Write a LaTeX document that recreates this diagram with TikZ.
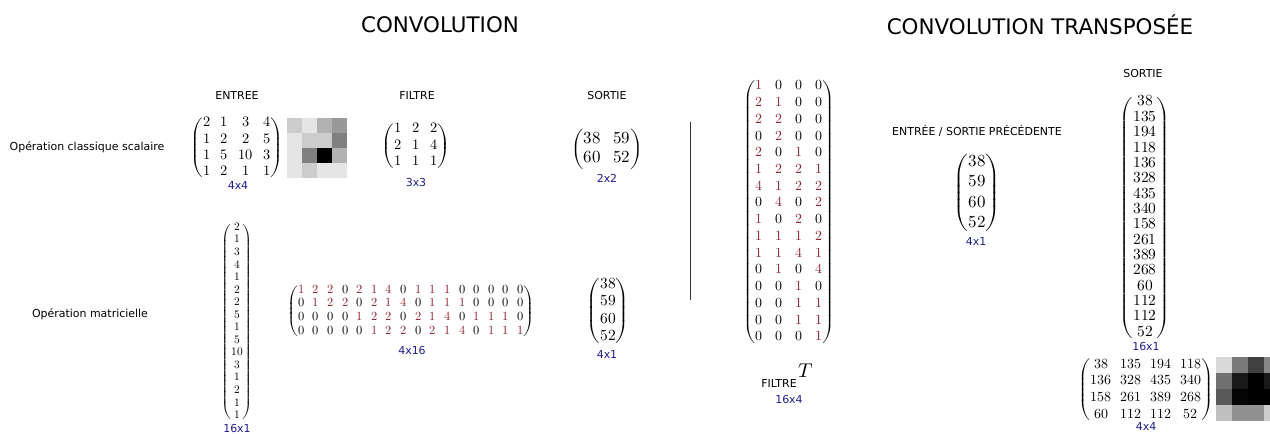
\documentclass[tikz,border=0pt]{standalone}
\usepackage{amsmath}
\usepackage{fontspec}
\usepackage{unicode-math}
\setmathfont{Latin Modern Math}
\setsansfont{DejaVu Sans}
\usetikzlibrary{calc}
\setcounter{MaxMatrixCols}{16}

\definecolor{dimblue}{RGB}{30,30,140}
\definecolor{filtred}{RGB}{140,35,45}
\newcommand{\rd}[1]{\textcolor{filtred}{#1}}

\tikzset{
	titre/.style={font=\sffamily\fontsize{21.5}{25}\selectfont},
	lbl/.style={font=\sffamily\fontsize{11}{13}\selectfont, text=black},
	dim/.style={font=\sffamily\fontsize{11}{12}\selectfont, text=dimblue, inner sep=0pt},
	mat/.style n args={3}{inner sep=0pt, font=\fontsize{#1}{#2}\selectfont\setlength\arraycolsep{#3}},
}

\begin{document}
\begin{tikzpicture}[x=1bp, y=-1bp]
	\useasboundingbox (0,0) rectangle (1270,434);
	
	% Titres
	\node[titre] (conv) at (440,25) {CONVOLUTION};
	\node[titre] (convT) at (1040,25) {CONVOLUTION TRANSPOSÉE};
	
	\node[lbl] (lentree) at (237,96) {ENTREE};
	\node[lbl] (lfiltre) at (417,96) {FILTRE};
	\node[lbl] (lsortie) at (607,96) {SORTIE};
	\node[lbl] (lscal) at (87,147) {Opération classique scalaire};
	\node[lbl] (lmat) at (90,314) {Opération matricielle};
	
	% Operation classique
	\node[mat={14.5}{16.3}{5.3bp}] (entree) at (237,148) {$\begin{pmatrix}
		2 & 1 & 3 & 4\\ 1 & 2 & 2 & 5\\ 1 & 5 & 10 & 3\\ 1 & 2 & 1 & 1
	\end{pmatrix}$};
	\node[dim] (dentree) at (238,186) {4x4};
	\foreach \v [count=\k from 0] in {2,1,3,4,1,2,2,5,1,5,10,3,1,2,1,1}{
		\pgfmathtruncatemacro\ci{mod(\k,4)}
		\pgfmathtruncatemacro\ri{div(\k,4)}
		\fill[black!\v0] (287+15*\ci, 118+15*\ri) rectangle ++(15,15);
	}
	\node[mat={14.5}{16.5}{5.3bp}] (filtre) at (416,146) {$\begin{pmatrix}
		1 & 2 & 2\\ 2 & 1 & 4\\ 1 & 1 & 1
	\end{pmatrix}$};
	\node[dim] (dfiltre) at (416,183) {3x3};
	\node[mat={17}{20}{6.5bp}] (sortie) at (607,149) {$\begin{pmatrix}
		38 & 59\\ 60 & 52
	\end{pmatrix}$};
	\node[dim] (dsortie) at (607,178) {2x2};
	
	% Operation matricielle
	\node[mat={11.5}{12.6}{5bp}] (entvec) at (237,322) {$\begin{pmatrix}
		2\\1\\3\\4\\1\\2\\2\\5\\1\\5\\10\\3\\1\\2\\1\\1
	\end{pmatrix}$};
	\node[dim] (dentvec) at (237,429) {16x1};
	\node[mat={12.5}{13.8}{4.2bp}] (filmat) at (411,311) {$\begin{pmatrix}
		\rd1 & \rd2 & \rd2 & 0 & \rd2 & \rd1 & \rd4 & 0 & \rd1 & \rd1 & \rd1 & 0 & 0 & 0 & 0 & 0\\
		0 & \rd1 & \rd2 & \rd2 & 0 & \rd2 & \rd1 & \rd4 & 0 & \rd1 & \rd1 & \rd1 & 0 & 0 & 0 & 0\\
		0 & 0 & 0 & 0 & \rd1 & \rd2 & \rd2 & 0 & \rd2 & \rd1 & \rd4 & 0 & \rd1 & \rd1 & \rd1 & 0\\
		0 & 0 & 0 & 0 & 0 & \rd1 & \rd2 & \rd2 & 0 & \rd2 & \rd1 & \rd4 & 0 & \rd1 & \rd1 & \rd1
	\end{pmatrix}$};
	\node[dim] (dfilmat) at (412,351) {4x16};
	\node[mat={15.5}{17.7}{5bp}] (sorvec) at (608,311) {$\begin{pmatrix}
		38\\59\\60\\52
	\end{pmatrix}$};
	\node[dim] (dsorvec) at (607,355) {4x1};
	
	% separation
	\draw[line width=0.8bp, black!80] (690,122) -- (690,300);
	
	% Convolution transposee
	\node[mat={14}{16.8}{6.4bp}] (filT) at (789,212) {$\begin{pmatrix}
		\rd1 & 0 & 0 & 0\\
		\rd2 & \rd1 & 0 & 0\\
		\rd2 & \rd2 & 0 & 0\\
		0 & \rd2 & 0 & 0\\
		\rd2 & 0 & \rd1 & 0\\
		\rd1 & \rd2 & \rd2 & \rd1\\
		\rd4 & \rd1 & \rd2 & \rd2\\
		0 & \rd4 & 0 & \rd2\\
		\rd1 & 0 & \rd2 & 0\\
		\rd1 & \rd1 & \rd1 & \rd2\\
		\rd1 & \rd1 & \rd4 & \rd1\\
		0 & \rd1 & 0 & \rd4\\
		0 & 0 & \rd1 & 0\\
		0 & 0 & \rd1 & \rd1\\
		0 & 0 & \rd1 & \rd1\\
		0 & 0 & 0 & \rd1
	\end{pmatrix}$};
	\node[lbl, inner sep=0pt] (lfilT) at (779,384) {FILTRE};
	\node[inner sep=0pt, font=\fontsize{20}{20}\selectfont] (expT) at (806,371) {$T$};
	\node[dim] (dfilT) at (789,400) {16x4};
	
	\node[lbl] (lentsor) at (977,131) {ENTRÉE / SORTIE PRÉCÉDENTE};
	\node[mat={17}{20.5}{5bp}] (entT) at (977,193) {$\begin{pmatrix}
		38\\59\\60\\52
	\end{pmatrix}$};
	\node[dim] (dentT) at (976,242) {4x1};
	
	\node[lbl] (lsortieT) at (1143,74) {SORTIE};
	\node[mat={15.5}{15.4}{5bp}] (sorT) at (1145,218) {$\begin{pmatrix}
		38\\135\\194\\118\\136\\328\\435\\340\\158\\261\\389\\268\\60\\112\\112\\52
	\end{pmatrix}$};
	\node[dim] (dsorT) at (1146,347) {16x1};
	\node[mat={14}{16.8}{4.5bp}] (sorTmat) at (1146,390) {$\begin{pmatrix}
		38 & 135 & 194 & 118\\ 136 & 328 & 435 & 340\\ 158 & 261 & 389 & 268\\ 60 & 112 & 112 & 52
	\end{pmatrix}$};
	\node[dim] (dsorTmat) at (1146,427) {4x4};
	\foreach \v [count=\k from 0] in {15,52,75,47,56,90,100,90,65,98,100,100,25,43,43,20}{
		\pgfmathtruncatemacro\ci{mod(\k,4)}
		\pgfmathtruncatemacro\ri{div(\k,4)}
		\fill[black!\v] (1216+16*\ci, 357+16*\ri) rectangle ++(16,16);
	}
\end{tikzpicture}
\end{document}
